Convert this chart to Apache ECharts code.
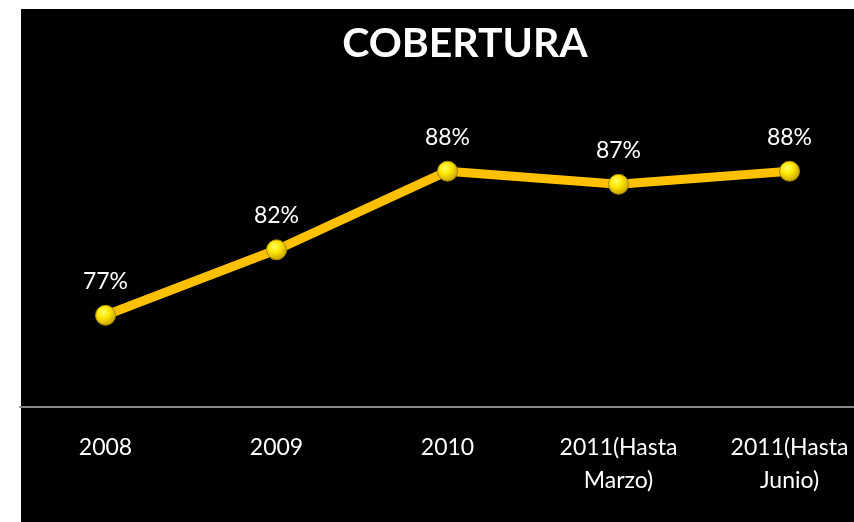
<!DOCTYPE html>
<html>
<head>
<meta charset="utf-8">
<script src="https://cdn.jsdelivr.net/npm/echarts@6/dist/echarts.min.js"></script>
<style>
  html, body { margin: 0; padding: 0; background: #ffffff; overflow: hidden; }
  #main { width: 900px; height: 522px; }
</style>
</head>
<body>
<div id="main"></div>
<script>
var categories = ['2008', '2009', '2010', '2011(Hasta\nMarzo)', '2011(Hasta\nJunio)'];
var coverage = [77, 82, 88, 87, 88];

var chart = echarts.init(document.getElementById('main'), null, { renderer: 'canvas' });

var option = {
  backgroundColor: '#ffffff',
  animation: false,
  graphic: [{
    type: 'rect',
    z: -100,
    shape: { x: 21, y: 9, width: 879, height: 513 },
    style: { fill: '#000000' }
  }],
  title: {
    text: 'COBERTURA',
    left: 460,
    textAlign: 'center',
    top: 18,
    textStyle: {
      color: '#ffffff',
      fontFamily: 'Lato',
      fontWeight: 'bold',
      fontSize: 41
    }
  },
  grid: {
    left: 20,
    top: 14,
    width: 855,
    height: 393
  },
  xAxis: {
    type: 'category',
    data: categories,
    boundaryGap: true,
    axisLine: { lineStyle: { color: '#868686', width: 2 } },
    axisTick: { show: false },
    axisLabel: {
      color: '#ffffff',
      fontFamily: 'Lato',
      fontSize: 23,
      lineHeight: 33,
      margin: 24,
      interval: 0
    }
  },
  yAxis: {
    type: 'value',
    min: 70,
    max: 100,
    show: false,
    splitLine: { show: false }
  },
  series: [{
    type: 'line',
    data: coverage,
    symbol: 'circle',
    symbolSize: 20,
    lineStyle: { color: '#ffc000', width: 9 },
    itemStyle: {
      color: {
        type: 'radial', x: 0.4, y: 0.35, r: 0.65,
        colorStops: [
          { offset: 0, color: '#ffff66' },
          { offset: 0.45, color: '#ffe600' },
          { offset: 1, color: '#c9a200' }
        ]
      },
      borderColor: '#a88a00',
      borderWidth: 1
    },
    label: {
      show: true,
      position: 'top',
      distance: 12,
      color: '#ffffff',
      fontFamily: 'Lato',
      fontSize: 23,
      formatter: '{c}%'
    }
  }]
};

chart.setOption(option);
window.addEventListener('resize', chart.resize);
</script>
</body>
</html>
